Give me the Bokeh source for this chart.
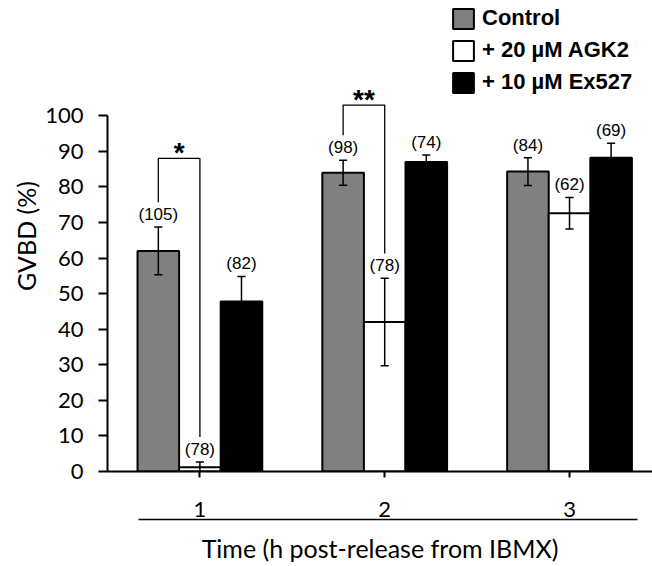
from bokeh.plotting import figure
from bokeh.models import Range1d, FixedTicker, LinearAxis, Legend, LegendItem
from bokeh.core.properties import value
from bokeh.embed import file_html
from bokeh.resources import INLINE

# ---------------- data ----------------
time_points = [1, 2, 3]
time_labels = ["1", "2", "3"]
series_names = ["Control", "+ 20 µM AGK2", "+ 10 µM Ex527"]

control_pct = [62.0, 84.0, 84.3]
control_err = [6.7, 3.5, 3.9]
control_n = ["(105)", "(98)", "(84)"]

agk2_pct = [1.2, 42.0, 72.6]
agk2_err = [1.5, 12.3, 4.4]
agk2_n = ["(78)", "(78)", "(62)"]

ex527_pct = [47.8, 87.0, 88.2]
ex527_err = [7.0, 2.0, 4.1]
ex527_n = ["(82)", "(74)", "(69)"]

sig_time = [1, 2]
sig_marks = ["*", "**"]
sig_height = [88, 103]

y_ticks = list(range(0, 101, 10))

# ---------------- styling constants ----------------
BAR_W = 0.225
OFFSETS = [-BAR_W, 0.0, BAR_W]
FILLS = ["#808080", "#ffffff", "#000000"]
CAP = 0.022
AX_FONT = "Lato"
LBL_FONT = "Liberation Sans"

p = figure(width=652, height=566,
           x_range=Range1d(0.5, 3.449), y_range=Range1d(0, 132.4),
           x_axis_type=None, y_axis_type=None,
           output_backend="svg", toolbar_location=None,
           min_border_left=107, min_border_right=0, min_border_top=0, min_border_bottom=95)
p.xgrid.visible = False
p.ygrid.visible = False
p.outline_line_color = None
p.background_fill_color = "white"
p.border_fill_color = "white"

# y axis
yaxis = LinearAxis(ticker=FixedTicker(ticks=y_ticks), bounds=(0, 100),
                   axis_label="GVBD (%)")
yaxis.axis_line_width = 2
yaxis.major_tick_line_width = 2
yaxis.major_tick_in = 0
yaxis.major_tick_out = 9
yaxis.minor_tick_line_color = None
yaxis.major_label_standoff = 15
yaxis.major_label_text_font = AX_FONT
yaxis.major_label_text_font_size = "22px"
yaxis.major_label_text_color = "black"
yaxis.axis_label_text_font = AX_FONT
yaxis.axis_label_text_font_size = "25px"
yaxis.axis_label_text_font_style = "normal"
yaxis.axis_label_text_color = "black"
yaxis.axis_label_standoff = 1
p.add_layout(yaxis, "left")

# x axis (ticks + labels)
xaxis = LinearAxis(ticker=FixedTicker(ticks=time_points),
                   major_label_overrides={t: l for t, l in zip(time_points, time_labels)})
xaxis.axis_line_width = 2
xaxis.major_tick_line_width = 2
xaxis.major_tick_in = 0
xaxis.major_tick_out = 6
xaxis.minor_tick_line_color = None
xaxis.major_label_standoff = 24
xaxis.major_label_text_font = AX_FONT
xaxis.major_label_text_font_size = "22px"
xaxis.major_label_text_color = "black"
p.add_layout(xaxis, "below")

# second x axis: underline + title
xaxis2 = LinearAxis(ticker=FixedTicker(ticks=[]), bounds=(0.67, 3.37),
                    axis_label="Time (h post-release from IBMX)")
xaxis2.axis_line_width = 1.5
xaxis2.major_tick_line_color = None
xaxis2.minor_tick_line_color = None
xaxis2.major_label_text_font_size = "0px"
xaxis2.major_label_standoff = 0
xaxis2.axis_label_standoff = 13
xaxis2.axis_label_text_font = AX_FONT
xaxis2.axis_label_text_font_size = "25px"
xaxis2.axis_label_text_font_style = "normal"
xaxis2.axis_label_text_color = "black"
p.add_layout(xaxis2, "below")

series = [(control_pct, control_err, control_n),
          (agk2_pct, agk2_err, agk2_n),
          (ex527_pct, ex527_err, ex527_n)]

bar_renderers = []
for (vals, errs, ns), off, fill in zip(series, OFFSETS, FILLS):
    xs = [t + off for t in time_points]
    r = p.vbar(x=xs, top=vals, width=BAR_W, bottom=0,
               fill_color=fill, line_color="black", line_width=2)
    bar_renderers.append(r)

for (vals, errs, ns), off in zip(series, OFFSETS):
    xs = [t + off for t in time_points]
    hi = [v + e for v, e in zip(vals, errs)]
    lo = [v - e for v, e in zip(vals, errs)]
    p.segment(x0=xs, y0=lo, x1=xs, y1=hi, line_color="black", line_width=1.5)
    p.segment(x0=[x - CAP for x in xs], y0=hi, x1=[x + CAP for x in xs], y1=hi,
              line_color="black", line_width=1.5)
    p.segment(x0=[x - CAP for x in xs], y0=lo, x1=[x + CAP for x in xs], y1=lo,
              line_color="black", line_width=1.5)
    p.text(x=xs, y=[h + 0.9 for h in hi], text=ns, text_align="center",
           text_baseline="bottom", text_font=value(LBL_FONT),
           text_font_size="17px", text_color="black")

# significance brackets
bx, by, sx, sy = [], [], [], []
for t, h in zip(sig_time, sig_height):
    i = time_points.index(t)
    lx = t + OFFSETS[0]
    rx = t + OFFSETS[1]
    lb = control_pct[i] + control_err[i] + 7
    rb = agk2_pct[i] + agk2_err[i] + 7
    bx.append([lx, lx, rx, rx])
    by.append([lb, h, h, rb])
    sx.append((lx + rx) / 2)
    sy.append(h + 1.6)
p.multi_line(xs=bx, ys=by, line_color="black", line_width=1.3)
p.text(x=sx, y=sy, text=sig_marks, text_align="center", text_baseline="alphabetic",
       text_font=value(LBL_FONT), text_font_size="28px", text_font_style="bold",
       text_color="black")

legend = Legend(items=[LegendItem(label=n, renderers=[r]) for n, r in zip(series_names, bar_renderers)],
                location=(343, 376), orientation="vertical",
                glyph_width=26, glyph_height=25, label_standoff=6, spacing=6,
                padding=0, margin=0, border_line_color=None, background_fill_alpha=0,
                label_text_font=LBL_FONT, label_text_font_size="22px",
                label_text_font_style="bold", label_text_color="black", label_height=25)
p.add_layout(legend)

open("out.html", "w").write(file_html(p, INLINE))
